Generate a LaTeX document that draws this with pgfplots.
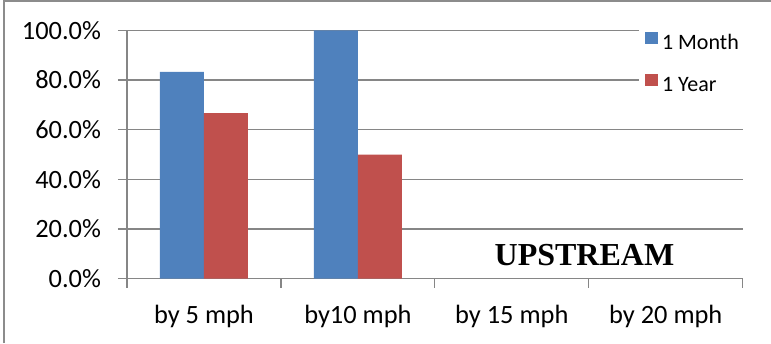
\documentclass[border=0pt]{standalone}
\usepackage{pgfplots}
\pgfplotsset{compat=1.18}
\usepackage{fontspec}
\setmainfont{Carlito}
\newfontfamily\timesfont{Liberation Serif}
\definecolor{xlblue}{HTML}{4F81BD}
\definecolor{xlred}{HTML}{C0504D}
\definecolor{gridgray}{HTML}{868686}
\definecolor{framegray}{HTML}{8C8C8C}
\begin{document}
\begin{tikzpicture}
\useasboundingbox (-63.5pt,-32.15pt) rectangle (322pt,139.35pt);
\begin{axis}[
  scale only axis, width=307.85pt, height=124.2pt,
  at={(0pt,0pt)}, anchor=south west,
  xmin=-0.5, xmax=3.5, ymin=0, ymax=100,
  axis x line*=bottom, axis y line*=left,
  axis line style={-, draw=gridgray, line width=0.6pt},
  ybar=0pt, bar width=22pt,
  ymajorgrids, grid style={draw=gridgray, line width=0.6pt},
  tick align=outside, major tick length=4.5pt,
  ytick={0,20,40,60,80,100},
  /pgf/number format/assume math mode=true,
  yticklabel={\pgfmathprintnumber[fixed,fixed zerofill,precision=1]{\tick}\%},
  yticklabel style={font=\fontsize{13.2}{15}\selectfont, anchor=east, xshift=-5pt},
  ytick style={draw=gridgray, line width=0.6pt},
  xtick={0,1,2,3},
  xticklabels={by 5 mph, by10 mph, by 15 mph, by 20 mph},
  xticklabel style={font=\fontsize{13.2}{15}\selectfont, anchor=base, yshift=-18pt},
  xtick style={draw=none},
  extra x ticks={-0.5,0.5,1.5,2.5,3.5},
  extra x tick labels={},
  extra x tick style={grid=none, xtick style={draw=gridgray, line width=0.6pt}},
  legend style={draw=none, fill=white, at={(rel axis cs:0.8316,1.0173)}, anchor=north west,
    font=\fontsize{11}{13}\selectfont, inner xsep=3pt, inner ysep=2pt, row sep=8.3pt},
  legend cell align=left,
]
\addplot[fill=xlblue, draw=none,
  legend image code/.code={\fill[xlblue] (0pt,0pt) rectangle (6.3pt,5.8pt);}]
  coordinates {(0,83.3) (1,100)};
\addlegendentry{1 Month}
\addplot[fill=xlred, draw=none,
  legend image code/.code={\fill[xlred] (0pt,0pt) rectangle (6.3pt,5.8pt);}]
  coordinates {(0,66.7) (1,50)};
\addlegendentry{1 Year}
\node[anchor=base, font=\timesfont\bfseries\fontsize{16}{18}\selectfont] at (axis cs:2.472,5.23) {UPSTREAM};
\end{axis}
\draw[framegray, line width=0.7pt] (-61.5pt,-32.15pt) -- (-61.5pt,138.85pt) -- (322pt,138.85pt);
\end{tikzpicture}
\end{document}
